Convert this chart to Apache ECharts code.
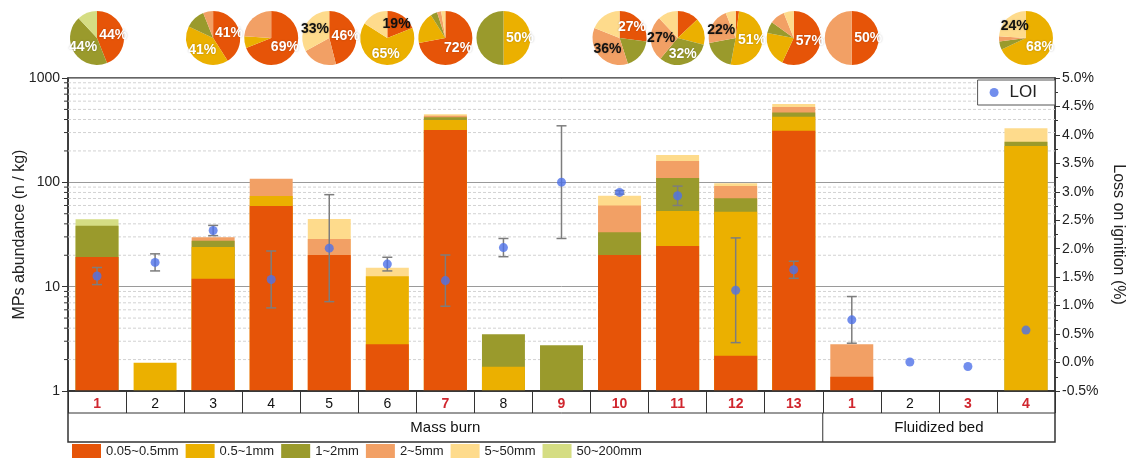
<!DOCTYPE html>
<html>
<head>
<meta charset="utf-8">
<title>MPs abundance and LOI</title>
<script src="https://cdn.jsdelivr.net/npm/echarts@6/dist/echarts.min.js"></script>
<style>
  html, body { margin: 0; padding: 0; background: #fff; }
  #chart { width: 1133px; height: 460px; }
</style>
</head>
<body>
<div id="chart"></div>
<script>
// ---- sites -------------------------------------------------------------
const sites = ['1', '2', '3', '4', '5', '6', '7', '8', '9', '10', '11', '12', '13', '1', '2', '3', '4'];
const redSites = [0, 6, 8, 9, 10, 11, 12, 13, 15, 16];
const groupNames = ['Mass burn', 'Fluidized bed'];
const groupSpans = [[0, 12], [13, 16]];

// ---- MP abundance by size class (n / kg), stacked ------------------------
const sizeClasses = ['0.05~0.5mm', '0.5~1mm', '1~2mm', '2~5mm', '5~50mm', '50~200mm'];
const size005to05 = [19.2, null, 11.9, 59.3, 20.1, 2.8, 318, null, null, 20.1, 24.5, 2.18, 313, 1.37, null, null, null];
const size05to1   = [null, 1.87, 12.1, 14.7, null, 9.8, 78, 1.71, null, null, 28.6, 50.1, 113, null, null, null, 223];
const size1to2    = [19.2, null, 3.6, null, null, null, 24, 1.78, 2.74, 13.1, 56.9, 18, 40, null, null, null, 22];
const size2to5    = [null, null, 2.1, 34, 8.5, null, 14, null, null, 26.8, 50, 21.9, 62, 1.43, null, null, null];
const size5to50   = [null, null, null, null, 15.9, 2.6, 15, null, null, 14.5, 23, 5.8, 35, null, null, null, 85];
const size50to200 = [5.8, null, null, null, null, null, null, null, null, null, null, null, null, null, null, null, null];
const sizeValues = [size005to05, size05to1, size1to2, size2to5, size5to50, size50to200];

// ---- loss on ignition (%) ----------------------------------------------
const loi    = [1.52, 1.76, 2.32, 1.46, 2.01, 1.73, 1.44, 2.02, 3.17, 2.99, 2.93, 1.27, 1.63, 0.75, 0.01, -0.07, 0.57];
const loiErr = [0.15, 0.15, 0.09, 0.50, 0.94, 0.12, 0.45, 0.16, 0.99, 0.03, 0.17, 0.92, 0.15, 0.41, null, null, null];

// ---- size-class shares per site (%) -------------------------------------
const pieShares = [
  [44, 0, 44, 0, 0, 12], null, [41, 41, 12, 6, 0, 0], [69, 7, 0, 24, 0, 0],
  [46, 0, 0, 21, 33, 0], [19, 65, 0, 0, 16, 0], [72, 19, 4, 2.5, 2.5, 0], [0, 50, 50, 0, 0, 0],
  null, [27, 0, 18, 36, 19, 0], [13, 16, 32, 27, 12, 0], [2, 51, 19, 22, 6, 0],
  [57, 21, 7, 9, 6, 0], [50, 0, 0, 50, 0, 0], null, null, [0, 68, 5, 3, 24, 0]
];
const pieLabelSlices = [
  [0, 2], [], [0, 1], [0], [0, 4], [0, 1], [0], [1], [], [0, 3], [2, 3], [1, 3], [0, 1], [0], [], [], [1, 4]
];

// ---- styling -------------------------------------------------------------
const FONT = '"Liberation Sans", Arial, sans-serif';
const classColors = ['#E65408', '#EBB000', '#9A9A2C', '#F2A065', '#FEDB8C', '#D5DD83'];
const darkPieLabels = new Set(['4:4', '5:0', '9:3', '10:3', '11:3', '12:1', '16:4']);
const siteIds = sites.map((s, i) => (i < 13 ? 'M' : 'F') + s);
const PIE_Y = 38, PIE_R = 27;
const ROW1 = 22, ROW2 = 29;

// minor log gridlines 2..9 x 10^n
const logMinor = [];
for (let e = 0; e < 3; e++) for (let k = 2; k <= 9; k++) logMinor.push(k * Math.pow(10, e));

// Stacks on a log axis: each size class is drawn as a bar from 1 up to the
// running total through that class; smaller classes sit in front.
const running = sites.map(() => 0);
const cumulative = sizeValues.map(vals => vals.map((v, i) => {
  if (v == null) return null;
  running[i] += v;
  return +running[i].toFixed(3);
}));

const chart = echarts.init(document.getElementById('chart'));

const barSeries = sizeClasses.map((name, k) => ({
  name, type: 'bar', data: cumulative[k], barWidth: '74%', barGap: '-100%',
  itemStyle: { color: classColors[k] }, z: 3, silent: true
}));
// draw order: reverse so the first size class ends up on top
barSeries.reverse();

const errData = [];
loi.forEach((v, i) => { if (loiErr[i] != null) errData.push([i, v - loiErr[i], v + loiErr[i]]); });

chart.setOption({
  animation: false,
  textStyle: { fontFamily: FONT },
  grid: {
    left: 68, right: 78, top: 78, bottom: 69, show: true, borderColor: '#333', borderWidth: 1.5,
    containLabel: false, outerBoundsMode: 'none'
  },
  legend: [
    {
      data: sizeClasses, left: 72, top: 444, itemWidth: 29, itemHeight: 14, itemGap: 7,
      icon: 'rect', selectedMode: false, padding: 0,
      textStyle: { fontSize: 13, color: '#222', fontFamily: FONT }
    },
    {
      data: ['LOI'], right: 78, top: 80, itemWidth: 9, itemHeight: 9, selectedMode: false,
      padding: [4, 18, 4, 12], borderColor: '#555', borderWidth: 1, backgroundColor: '#fff',
      textStyle: { fontSize: 17, color: '#222', fontFamily: FONT, padding: [0, 0, 0, 6] }
    }
  ],
  xAxis: {
    type: 'category', data: siteIds,
    axisLine: { onZero: false, lineStyle: { color: '#333', width: 1.5 } },
    axisTick: { show: true, length: ROW1, interval: 0, lineStyle: { color: '#333', width: 1 } },
    axisLabel: {
      interval: 0, margin: 6,
      formatter: (v, i) => (redSites.includes(i) ? '{r|' : '{k|') + sites[i] + '}',
      rich: {
        r: { color: '#D0262E', fontSize: 14, fontWeight: 'bold', fontFamily: FONT },
        k: { color: '#111', fontSize: 14, fontFamily: FONT }
      }
    },
    splitLine: { show: false }
  },
  yAxis: [
    {
      type: 'log', logBase: 10, min: 1, max: 1000,
      name: 'MPs abundance (n / kg)', nameLocation: 'middle', nameGap: 40, nameMoveOverlap: false,
      nameTextStyle: { fontSize: 16, color: '#222', fontFamily: FONT },
      axisLine: { show: true, lineStyle: { color: '#333', width: 1.5 } },
      axisTick: { show: true, length: 6, lineStyle: { color: '#333' } },
      axisLabel: { fontSize: 14, color: '#222', margin: 8, formatter: v => String(Math.round(v)) },
      splitLine: { show: true, lineStyle: { color: '#9a9a9a', width: 1 } }
    },
    {
      type: 'value', position: 'right', min: -0.5, max: 5, interval: 0.5,
      name: 'Loss on ignition (%)', nameLocation: 'middle', nameGap: 55, nameRotate: -90,
      nameMoveOverlap: false,
      nameTextStyle: { fontSize: 16, color: '#222', fontFamily: FONT },
      axisLine: { show: true, onZero: false, lineStyle: { color: '#333', width: 1.5 } },
      axisTick: { show: true, length: 5, lineStyle: { color: '#333' } },
      minorTick: { show: true, splitNumber: 2, length: 3, lineStyle: { color: '#333' } },
      axisLabel: {
        fontSize: 14, color: '#222', margin: 7,
        formatter: v => (Math.abs(v) < 1e-9 ? 0 : v).toFixed(1) + '%'
      },
      splitLine: { show: false }
    }
  ],
  series: [
    {
      type: 'custom', name: 'minor grid', yAxisIndex: 0, silent: true, z: 1,
      data: logMinor.map(v => [0, v]),
      renderItem: (params, api) => {
        const y = api.coord([0, api.value(1)])[1];
        const cs = params.coordSys;
        return {
          type: 'group', children: [
            { type: 'line', shape: { x1: cs.x, y1: y, x2: cs.x + cs.width, y2: y },
              style: { stroke: '#d2d2d2', lineWidth: 1, lineDash: [3, 2] } },
            { type: 'line', shape: { x1: cs.x - 4, y1: y, x2: cs.x, y2: y },
              style: { stroke: '#333', lineWidth: 1 } }
          ]
        };
      }
    },
    ...barSeries,
    {
      type: 'custom', name: 'LOI error', yAxisIndex: 1, silent: true, z: 5,
      data: errData,
      renderItem: (params, api) => {
        const lo = api.coord([api.value(0), api.value(1)]);
        const hi = api.coord([api.value(0), api.value(2)]);
        const st = { stroke: '#7d7d7d', lineWidth: 1.5 };
        return {
          type: 'group', children: [
            { type: 'line', shape: { x1: lo[0], y1: lo[1], x2: hi[0], y2: hi[1] }, style: st },
            { type: 'line', shape: { x1: lo[0] - 5, y1: lo[1], x2: lo[0] + 5, y2: lo[1] }, style: st },
            { type: 'line', shape: { x1: hi[0] - 5, y1: hi[1], x2: hi[0] + 5, y2: hi[1] }, style: st }
          ]
        };
      }
    },
    {
      type: 'scatter', name: 'LOI', yAxisIndex: 1, data: loi, symbol: 'circle', symbolSize: 9,
      itemStyle: { color: '#4F72E8' }, z: 6, silent: true
    }
  ]
});

// ---- site table under the axis and composition pies above ---------------
const xs = sites.map((s, i) => chart.convertToPixel({ xAxisIndex: 0 }, siteIds[i]));
const band = xs[1] - xs[0];
const left = xs[0] - band / 2;
const right = xs[xs.length - 1] + band / 2;
const axisY = chart.convertToPixel({ yAxisIndex: 0 }, 1);

const graphics = [
  { type: 'rect', shape: { x: left, y: axisY, width: right - left, height: ROW1 + ROW2 },
    style: { fill: 'none', stroke: '#333', lineWidth: 1.5 }, z: 10 },
  { type: 'line', shape: { x1: left, y1: axisY + ROW1, x2: right, y2: axisY + ROW1 },
    style: { stroke: '#333', lineWidth: 1 }, z: 10 }
];
groupSpans.forEach((span, g) => {
  const x0 = xs[span[0]] - band / 2, x1 = xs[span[1]] + band / 2;
  if (g > 0) {
    graphics.push({ type: 'line', shape: { x1: x0, y1: axisY + ROW1, x2: x0, y2: axisY + ROW1 + ROW2 },
      style: { stroke: '#333', lineWidth: 1 }, z: 10 });
  }
  graphics.push({
    type: 'text', x: (x0 + x1) / 2, y: axisY + ROW1 + ROW2 / 2, z: 10,
    style: { text: groupNames[g], fill: '#111', font: '15px ' + FONT, align: 'center', verticalAlign: 'middle' }
  });
});

const pieSeries = [];
pieShares.forEach((shares, i) => {
  if (!shares) return;
  const data = [];
  shares.forEach((s, k) => {
    if (!s) return;
    data.push({
      name: sizeClasses[k], value: s,
      itemStyle: { color: classColors[k] },
      label: { show: pieLabelSlices[i].includes(k), color: darkPieLabels.has(i + ':' + k) ? '#111' : '#fff' }
    });
  });
  pieSeries.push({
    type: 'pie', center: [xs[i], PIE_Y], radius: [0, PIE_R], startAngle: 90, clockwise: true,
    silent: true, data,
    label: {
      position: 'inside', formatter: p => p.value + '%', fontSize: 14, fontWeight: 'bold',
      fontFamily: FONT, textShadowColor: 'rgba(0,0,0,0.25)', textShadowBlur: 2
    },
    labelLine: { show: false },
    emphasis: { disabled: true }
  });
});

const current = chart.getOption().series;
chart.setOption({ graphic: graphics, series: current.concat(pieSeries) });
</script>
</body>
</html>
